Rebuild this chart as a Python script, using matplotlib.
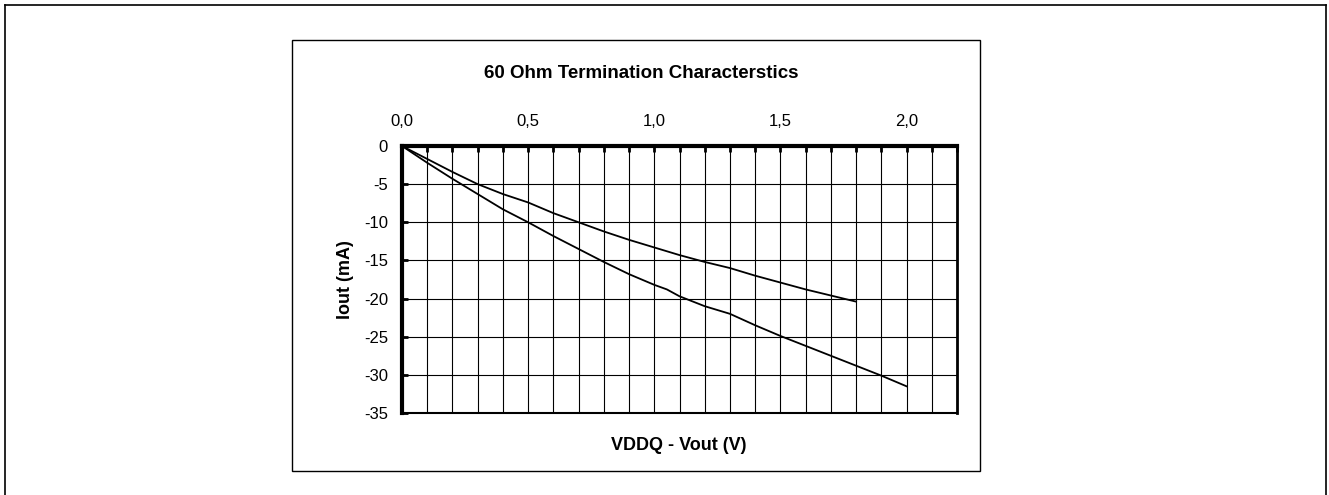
import matplotlib
matplotlib.use("Agg")
import matplotlib.pyplot as plt
from matplotlib.lines import Line2D
from matplotlib.patches import Rectangle
import numpy as np

plt.rcParams['font.family'] = ['Liberation Sans', 'DejaVu Sans']

# Output voltage drop (V) and current (mA) for the two termination curves
v_upper = [0.0, 0.1, 0.2, 0.3, 0.4, 0.5, 0.6, 0.7, 0.8, 0.9, 1.0, 1.1, 1.2,
           1.3, 1.4, 1.5, 1.6, 1.7, 1.8]
i_upper = [0.0, -1.7, -3.4, -5.0, -6.3, -7.4, -8.8, -10.0, -11.2, -12.3,
           -13.3, -14.3, -15.2, -16.0, -17.0, -17.9, -18.8, -19.6, -20.4]

v_lower = [0.0, 0.1, 0.2, 0.3, 0.4, 0.5, 0.6, 0.7, 0.8, 0.9, 1.0, 1.05,
           1.1, 1.2, 1.3, 1.4, 1.5, 1.6, 1.7, 1.8, 1.9, 2.0]
i_lower = [0.0, -2.2, -4.3, -6.3, -8.3, -10.0, -11.8, -13.5, -15.2, -16.8,
           -18.2, -18.8, -19.7, -21.0, -22.0, -23.5, -24.9, -26.2, -27.5,
           -28.8, -30.1, -31.5]

x_ticks = [0.0, 0.5, 1.0, 1.5, 2.0]
x_tick_labels = ["0,0", "0,5", "1,0", "1,5", "2,0"]
y_ticks = [0, -5, -10, -15, -20, -25, -30, -35]
y_tick_labels = ["0", "-5", "-10", "-15", "-20", "-25", "-30", "-35"]

W, H = 1329, 495
fig = plt.figure(figsize=(W / 100, H / 100), dpi=100)


def fx(px):
    return px / W


def fy(py):
    return 1 - py / H


# Outer page frame (open at the bottom) and chart box
for xs, ys in [([5, 5], [5, 500]), ([5, 1326], [5, 5]), ([1326, 1326], [5, 500])]:
    fig.add_artist(Line2D([fx(x) for x in xs], [fy(y) for y in ys],
                          color="black", lw=1.2, transform=fig.transFigure))
fig.add_artist(Rectangle((fx(292), fy(471)), fx(980) - fx(292), fy(40) - fy(471),
                         fill=False, edgecolor="black", lw=1.0,
                         transform=fig.transFigure))

ax = fig.add_axes([fx(402), fy(413), fx(957) - fx(402), fy(146) - fy(413)])
ax.set_xlim(0, 2.2)
ax.set_ylim(-35, 0)

ax.plot(v_upper, i_upper, color="black", lw=1.3, zorder=3)
ax.plot(v_lower, i_lower, color="black", lw=1.3, zorder=3)

# Grid: vertical every 0.1 V, horizontal every 5 mA
ax.set_xticks(np.arange(0, 2.21, 0.1), minor=True)
ax.set_xticks(x_ticks)
ax.set_xticklabels(x_tick_labels)
ax.set_yticks(y_ticks)
ax.set_yticklabels(y_tick_labels)
ax.grid(True, which="both", axis="x", color="black", lw=0.8)
ax.grid(True, which="major", axis="y", color="black", lw=0.8)
ax.set_axisbelow(True)

ax.xaxis.tick_top()
ax.tick_params(axis="x", which="both", direction="in", length=4, width=2,
               labelsize=12, pad=12, top=True, bottom=False)
ax.tick_params(axis="y", which="major", direction="in", length=4, width=2,
               labelsize=12, pad=10)

ax.spines["top"].set_linewidth(3)
ax.spines["left"].set_linewidth(3)
ax.spines["bottom"].set_linewidth(1.5)
ax.spines["right"].set_linewidth(2)

fig.text(fx(641), fy(74), "60 Ohm Termination Characterstics", ha="center",
         va="center", fontsize=13.5, fontweight="bold")
fig.text(fx(679), fy(445), "VDDQ - Vout (V)", ha="center", va="center",
         fontsize=13, fontweight="bold")
fig.text(fx(345), fy(280), "Iout (mA)", ha="center", va="center",
         fontsize=13, fontweight="bold", rotation=90)

fig.savefig("out.png", dpi=100, facecolor="white")
